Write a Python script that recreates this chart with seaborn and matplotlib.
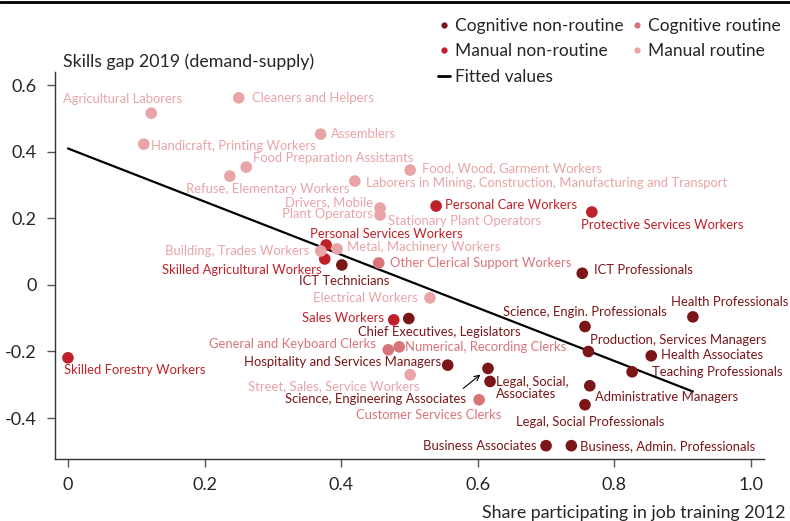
import numpy as np
import pandas as pd
import matplotlib.pyplot as plt
import seaborn as sns
from matplotlib.lines import Line2D

# data: occupation, share in job training 2012, skills gap 2019
mr_names = ["Agricultural Laborers", "Cleaners and Helpers", "Assemblers",
            "Handicraft, Printing Workers", "Food Preparation Assistants",
            "Refuse, Elementary Workers",
            "Laborers in Mining, Construction, Manufacturing and Transport",
            "Food, Wood, Garment Workers", "Drivers, Mobile\nPlant Operators",
            "Stationary Plant Operators", "Building, Trades Workers",
            "Metal, Machinery Workers", "Electrical Workers",
            "Street, Sales, Service Workers"]
mr_x = [0.122, 0.250, 0.370, 0.111, 0.261, 0.237, 0.420, 0.501, 0.457,
        0.457, 0.370, 0.394, 0.530, 0.501]
mr_y = [0.516, 0.562, 0.453, 0.423, 0.354, 0.327, 0.312, 0.345, 0.231,
        0.210, 0.102, 0.108, -0.039, -0.270]

cr_names = ["Other Clerical Support Workers", "General and Keyboard Clerks",
            "Numerical, Recording Clerks", "Customer Services Clerks"]
cr_x = [0.455, 0.469, 0.485, 0.602]
cr_y = [0.066, -0.195, -0.186, -0.345]

mn_names = ["Skilled Forestry Workers", "Sales Workers",
            "Personal Services Workers", "Skilled Agricultural Workers",
            "Personal Care Workers", "Protective Services Workers"]
mn_x = [0.000, 0.477, 0.378, 0.376, 0.539, 0.767]
mn_y = [-0.219, -0.105, 0.120, 0.078, 0.237, 0.219]

cn_names = ["ICT Technicians", "Chief Executives, Legislators",
            "Hospitality and Services Managers",
            "Science, Engineering Associates", "Legal, Social,\nAssociates",
            "ICT Professionals", "Science, Engin. Professionals",
            "Health Professionals", "Production, Services Managers",
            "Health Associates", "Teaching Professionals",
            "Administrative Managers", "Legal, Social Professionals",
            "Business Associates", "Business, Admin. Professionals"]
cn_x = [0.401, 0.499, 0.556, 0.615, 0.618, 0.753, 0.757, 0.915, 0.762,
        0.854, 0.826, 0.764, 0.757, 0.700, 0.737]
cn_y = [0.060, -0.101, -0.241, -0.251, -0.290, 0.035, -0.125, -0.096,
        -0.200, -0.213, -0.261, -0.303, -0.360, -0.483, -0.483]

groups = ["Cognitive non-routine", "Cognitive routine",
          "Manual non-routine", "Manual routine"]
colors = {"Cognitive non-routine": "#7b1518", "Cognitive routine": "#d9747b",
          "Manual non-routine": "#c0202a", "Manual routine": "#e8a4a7"}

df = pd.concat([
    pd.DataFrame({"name": cn_names, "x": cn_x, "y": cn_y, "group": groups[0]}),
    pd.DataFrame({"name": cr_names, "x": cr_x, "y": cr_y, "group": groups[1]}),
    pd.DataFrame({"name": mn_names, "x": mn_x, "y": mn_y, "group": groups[2]}),
    pd.DataFrame({"name": mr_names, "x": mr_x, "y": mr_y, "group": groups[3]}),
], ignore_index=True)

# label placement (pixel offsets from point, alignment)
lab = {
    "Agricultural Laborers": (-29, 14, "center"),
    "Cleaners and Helpers": (13, 0, "left"),
    "Assemblers": (10, 0, "left"),
    "Handicraft, Printing Workers": (7, -2, "left"),
    "Food Preparation Assistants": (7, 9, "left"),
    "Refuse, Elementary Workers": (38, -13, "center"),
    "Laborers in Mining, Construction, Manufacturing and Transport": (11, -2, "left"),
    "Food, Wood, Garment Workers": (12, 2, "left"),
    "Drivers, Mobile\nPlant Operators": (-7, 0, "right"),
    "Stationary Plant Operators": (8, -6, "left"),
    "Building, Trades Workers": (-11, 0, "right"),
    "Metal, Machinery Workers": (10, 2, "left"),
    "Electrical Workers": (-12, 0, "right"),
    "Street, Sales, Service Workers": (9, -11, "right"),
    "Other Clerical Support Workers": (11, 0, "left"),
    "General and Keyboard Clerks": (-12, 6, "right"),
    "Numerical, Recording Clerks": (6, 0, "left"),
    "Customer Services Clerks": (22, -15, "right"),
    "Skilled Forestry Workers": (-4, -12, "left"),
    "Sales Workers": (-10, 2, "right"),
    "Personal Services Workers": (-16, 11, "left"),
    "Skilled Agricultural Workers": (-3, -11, "right"),
    "Personal Care Workers": (9, 1, "left"),
    "Protective Services Workers": (-11, -13, "left"),
    "ICT Technicians": (2, -16, "center"),
    "Chief Executives, Legislators": (31, -13, "center"),
    "Hospitality and Services Managers": (-7, 3, "right"),
    "Science, Engineering Associates": (-22, -31, "right"),
    "Legal, Social,\nAssociates": (6, -7, "left"),
    "ICT Professionals": (12, 3, "left"),
    "Science, Engin. Professionals": (0, 15, "center"),
    "Health Professionals": (37, 15, "center"),
    "Production, Services Managers": (2, 11, "left"),
    "Health Associates": (10, 1, "left"),
    "Teaching Professionals": (20, 0, "left"),
    "Administrative Managers": (5, -11, "left"),
    "Legal, Social Professionals": (5, -17, "center"),
    "Business Associates": (-10, 0, "right"),
    "Business, Admin. Professionals": (9, 0, "left"),
}

sns.set_style("ticks")
plt.rcParams["font.family"] = ["Lato", "DejaVu Sans"]

fig = plt.figure(figsize=(7.9, 5.21), dpi=100)
ax = fig.add_axes([0.0696, 0.119, 0.8974, 0.743])

sns.scatterplot(data=df, x="x", y="y", hue="group", palette=colors, s=70,
                edgecolor="none", legend=False, ax=ax, zorder=3)

# fitted values
coef = np.polyfit(df["x"], df["y"], 1)
fx = np.array([df["x"].min(), df["x"].max()])
ax.plot(fx, np.polyval(coef, fx), color="black", lw=1.6, zorder=2)

for _, r in df.iterrows():
    dx, dy, ha = lab[r["name"]]
    kw = {}
    if r["name"] == "Science, Engineering Associates":
        kw["arrowprops"] = dict(arrowstyle="->", color="black", lw=0.8,
                                shrinkA=2, shrinkB=7, relpos=(0.95, 1.0))
    ax.annotate(r["name"], (r["x"], r["y"]), xytext=(dx, dy),
                textcoords="offset pixels", ha=ha, va="center",
                multialignment=ha if ha != "center" else "center",
                fontsize=9.4, color=colors[r["group"]], linespacing=1.0,
                annotation_clip=False, **kw)

ax.set_xlim(-0.019, 1.019)
ax.set_ylim(-0.523, 0.64)
ax.set_xticks([0, 0.2, 0.4, 0.6, 0.8, 1.0])
ax.set_xticklabels(["0", "0.2", "0.4", "0.6", "0.8", "1.0"])
ax.set_yticks([0.6, 0.4, 0.2, 0, -0.2, -0.4])
ax.set_yticklabels(["0.6", "0.4", "0.2", "0", "-0.2", "-0.4"])
ax.tick_params(labelsize=13, length=6, width=1, color="#555555", pad=7)
ax.set_xlabel("")
ax.set_ylabel("")
sns.despine(ax=ax)
for s in ["left", "bottom"]:
    ax.spines[s].set_color("#333333")
    ax.spines[s].set_linewidth(1.0)

fig.text(63 / 790, 1 - 62 / 521, "Skills gap 2019 (demand-supply)",
         fontsize=12.8, va="center", ha="left")
fig.text(785 / 790, 1 - 513 / 521, "Share participating in job training 2012",
         fontsize=12.8, va="center", ha="right")
fig.add_artist(Line2D([0, 1], [0.997, 0.997], color="black", lw=2,
                      transform=fig.transFigure))

order = ["Cognitive non-routine", "Manual non-routine", None,
         "Cognitive routine", "Manual routine"]
handles, labels = [], []
for g in order:
    if g is None:
        handles.append(Line2D([], [], color="black", lw=2))
        labels.append("Fitted values")
    else:
        handles.append(Line2D([], [], marker="o", ls="none", ms=4.5,
                              mfc=colors[g], mec="none"))
        labels.append(g)
fig.legend(handles, labels, ncol=2, frameon=False, fontsize=12.5,
           loc="upper left", bbox_to_anchor=(0.554, 0.966),
           handlelength=0.7, handletextpad=0.3, columnspacing=0.4,
           labelspacing=0.55, borderaxespad=0, borderpad=0)

fig.savefig("out.png", dpi=100)
